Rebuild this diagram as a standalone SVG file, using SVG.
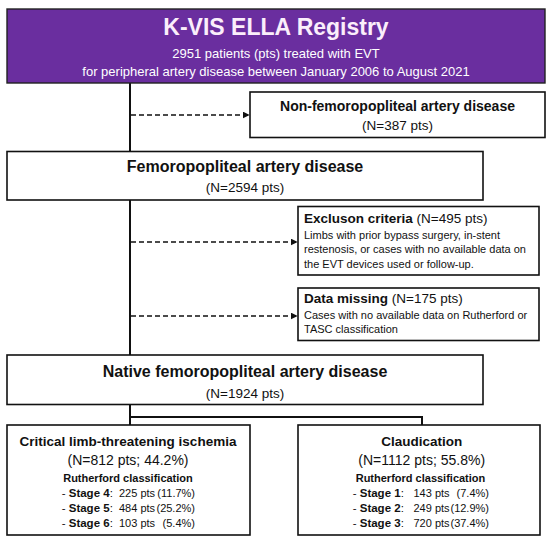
<svg xmlns="http://www.w3.org/2000/svg" width="550" height="540" viewBox="0 0 550 540">
<style>
text{font-family:"Liberation Sans",Arial,sans-serif;fill:#111}
.box{fill:#fff;stroke:#111;stroke-width:1.6}
.ln{stroke:#111;stroke-width:2;fill:none}
.dash{stroke:#111;stroke-width:1.6;stroke-dasharray:5,3;fill:none}
.b{font-weight:bold}
.c{text-anchor:middle}
.e{text-anchor:end}
.st{font-size:11.5px}
.nm{font-size:11px}
</style>
<defs>
<marker id="ah" viewBox="0 0 10 10" refX="9" refY="5" markerWidth="7" markerHeight="7" orient="auto" markerUnits="userSpaceOnUse">
<path d="M0,0 L10,5 L0,10 z" fill="#111"/>
</marker>
</defs>
<g id="connectors">
<line class="ln" x1="130" y1="83" x2="130" y2="425"/>
<polyline class="ln" points="130,417 422,417 422,425"/>
<line class="dash" x1="131" y1="115" x2="249" y2="115" marker-end="url(#ah)"/>
<line class="dash" x1="131" y1="242" x2="297" y2="242" marker-end="url(#ah)"/>
<line class="dash" x1="131" y1="316" x2="297" y2="316" marker-end="url(#ah)"/>
</g>
<g id="registry">
<rect x="7" y="9" width="538" height="74" fill="#6a2e9f" stroke="#222" stroke-width="1.4"/>
<text x="276" y="35" class="b c" font-size="23" style="fill:#fbeefb">K-VIS ELLA Registry</text>
<text x="276" y="58" class="c" font-size="13" style="fill:#fff">2951 patients (pts) treated with EVT</text>
<text x="276" y="76" class="c" font-size="13" style="fill:#fff">for peripheral artery disease between January 2006 to August 2021</text>
</g>
<g id="nonfemoro">
<rect class="box" x="250" y="92" width="295" height="45.5"/>
<text x="397.5" y="111" class="b c" font-size="14">Non-femoropopliteal artery disease</text>
<text x="397.5" y="129.5" class="c" font-size="13.5">(N=387 pts)</text>
</g>
<g id="femoro">
<rect class="box" x="7" y="151.5" width="476" height="48.5"/>
<text x="245" y="172" class="b c" font-size="16">Femoropopliteal artery disease</text>
<text x="245" y="192" class="c" font-size="13.5">(N=2594 pts)</text>
</g>
<g id="exclusion">
<rect class="box" x="298" y="206.5" width="241" height="68.5"/>
<text x="304" y="223" font-size="13.5"><tspan class="b">Excluson criteria</tspan> (N=495 pts)</text>
<text x="304" y="238.7" font-size="11">Limbs with prior bypass surgery, in-stent</text>
<text x="304" y="253.3" font-size="11">restenosis, or cases with no available data on</text>
<text x="304" y="268" font-size="11">the EVT devices used or follow-up.</text>
</g>
<g id="datamissing">
<rect class="box" x="298" y="288" width="241" height="52.5"/>
<text x="304" y="302.6" font-size="13.5"><tspan class="b">Data missing</tspan> (N=175 pts)</text>
<text x="304" y="318.5" font-size="11">Cases with no available data on Rutherford or</text>
<text x="304" y="333" font-size="11">TASC classification</text>
</g>
<g id="native">
<rect class="box" x="7" y="355" width="476" height="49.5"/>
<text x="245" y="377" class="b c" font-size="16">Native femoropopliteal artery disease</text>
<text x="245" y="398" class="c" font-size="13.5">(N=1924 pts)</text>
</g>
<g id="clti">
<rect class="box" x="7" y="425" width="243" height="110"/>
<text x="128" y="446" class="b c" font-size="13.5">Critical limb-threatening ischemia</text>
<text x="128" y="465" class="c" font-size="14">(N=812 pts; 44.2%)</text>
<text x="128" y="481.7" class="b c" font-size="11">Rutherford classification</text>
<text x="61.7" y="497" class="st">- <tspan class="b">Stage 4</tspan>:</text>
<text x="119" y="497" class="nm">225 pts</text>
<text x="195" y="497" class="e nm">(11.7%)</text>
<text x="61.7" y="511.7" class="st">- <tspan class="b">Stage 5</tspan>:</text>
<text x="119" y="511.7" class="nm">484 pts</text>
<text x="195" y="511.7" class="e nm">(25.2%)</text>
<text x="61.7" y="526.7" class="st">- <tspan class="b">Stage 6</tspan>:</text>
<text x="119" y="526.7" class="nm">103 pts</text>
<text x="195" y="526.7" class="e nm">(5.4%)</text>
</g>
<g id="claudication">
<rect class="box" x="298" y="425" width="242" height="110"/>
<text x="421.7" y="446" class="b c" font-size="13.5">Claudication</text>
<text x="421.7" y="465" class="c" font-size="14">(N=1112 pts; 55.8%)</text>
<text x="420.5" y="481.7" class="b c" font-size="11">Rutherford classification</text>
<text x="352.7" y="497" class="st">- <tspan class="b">Stage 1</tspan>:</text>
<text x="413.5" y="497" class="nm">143 pts</text>
<text x="489" y="497" class="e nm">(7.4%)</text>
<text x="352.7" y="511.7" class="st">- <tspan class="b">Stage 2</tspan>:</text>
<text x="413.5" y="511.7" class="nm">249 pts</text>
<text x="489" y="511.7" class="e nm">(12.9%)</text>
<text x="352.7" y="526.7" class="st">- <tspan class="b">Stage 3</tspan>:</text>
<text x="413.5" y="526.7" class="nm">720 pts</text>
<text x="489" y="526.7" class="e nm">(37.4%)</text>
</g>
</svg>
